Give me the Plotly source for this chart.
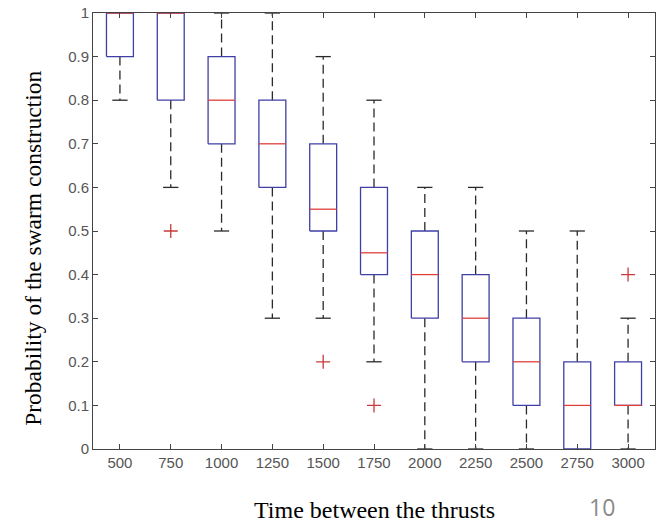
import plotly.graph_objects as go

categories = ["500", "750", "1000", "1250", "1500", "1750", "2000", "2250", "2500", "2750", "3000"]
lower_whisker = [0.8, 0.6, 0.5, 0.3, 0.3, 0.2, 0.0, 0.0, 0.0, 0.0, 0.0]
q1 = [0.9, 0.8, 0.7, 0.6, 0.5, 0.4, 0.3, 0.2, 0.1, 0.0, 0.1]
median = [1.0, 1.0, 0.8, 0.7, 0.55, 0.45, 0.4, 0.3, 0.2, 0.1, 0.1]
q3 = [1.0, 1.0, 0.9, 0.8, 0.7, 0.6, 0.5, 0.4, 0.3, 0.2, 0.2]
upper_whisker = [1.0, 1.0, 1.0, 1.0, 0.9, 0.8, 0.6, 0.6, 0.5, 0.5, 0.3]
outlier_cat = ["750", "1500", "1750", "3000"]
outlier_val = [0.5, 0.2, 0.1, 0.4]
y_ticks = [0, 0.1, 0.2, 0.3, 0.4, 0.5, 0.6, 0.7, 0.8, 0.9, 1]
y_ticktext = ["0", "0.1", "0.2", "0.3", "0.4", "0.5", "0.6", "0.7", "0.8", "0.9", "1"]

HW = 0.265   # box half width (category units)
CW = 0.15    # cap half width

idx = list(range(len(categories)))

box_x, box_y = [], []
med_x, med_y = [], []
wh_x, wh_y = [], []
cap_x, cap_y = [], []
for i in idx:
    box_x += [i - HW, i + HW, i + HW, i - HW, i - HW, None]
    box_y += [q1[i], q1[i], q3[i], q3[i], q1[i], None]
    med_x += [i - HW, i + HW, None]
    med_y += [median[i], median[i], None]
    if upper_whisker[i] > q3[i]:
        wh_x += [i, i, None]
        wh_y += [q3[i], upper_whisker[i], None]
        cap_x += [i - CW, i + CW, None]
        cap_y += [upper_whisker[i], upper_whisker[i], None]
    if lower_whisker[i] < q1[i]:
        wh_x += [i, i, None]
        wh_y += [q1[i], lower_whisker[i], None]
        cap_x += [i - CW, i + CW, None]
        cap_y += [lower_whisker[i], lower_whisker[i], None]

fig = go.Figure()
fig.add_trace(go.Scatter(x=wh_x, y=wh_y, mode="lines",
                         line=dict(color="#2a2a2a", width=1.3, dash="9px,5px"),
                         hoverinfo="skip", showlegend=False, cliponaxis=False))
fig.add_trace(go.Scatter(x=cap_x, y=cap_y, mode="lines",
                         line=dict(color="#2a2a2a", width=1.3),
                         hoverinfo="skip", showlegend=False, cliponaxis=False))
fig.add_trace(go.Scatter(x=box_x, y=box_y, mode="lines",
                         line=dict(color="#3f3fa6", width=1.3),
                         hoverinfo="skip", showlegend=False, cliponaxis=False))
fig.add_trace(go.Scatter(x=med_x, y=med_y, mode="lines",
                         line=dict(color="#e0403a", width=1.3),
                         hoverinfo="skip", showlegend=False, cliponaxis=False))
fig.add_trace(go.Scatter(x=[categories.index(c) for c in outlier_cat], y=outlier_val,
                         mode="markers",
                         marker=dict(symbol="cross-thin-open", size=10, color="#c8383a",
                                     line=dict(color="#c8383a", width=1.3)),
                         hoverinfo="skip", showlegend=False, cliponaxis=False))

axis_common = dict(showline=True, linecolor="#444444", linewidth=1, mirror="ticks",
                   ticks="inside", ticklen=5, tickcolor="#444444", showgrid=False,
                   zeroline=False,
                   tickfont=dict(family="Liberation Sans, Arial, sans-serif", size=15,
                                 color="#555555"))

fig.update_layout(
    width=657, height=524,
    margin=dict(l=93, r=2, t=13, b=75),
    paper_bgcolor="white", plot_bgcolor="white",
    xaxis=dict(range=[-0.53, 10.53], tickvals=idx, ticktext=categories, **axis_common),
    yaxis=dict(range=[0, 1], tickvals=y_ticks, ticktext=y_ticktext, **axis_common),
    annotations=[
        dict(text="Probability of the swarm construction", xref="paper", yref="paper",
             x=-0.107, y=0.461, xanchor="center", yanchor="middle", textangle=-90,
             showarrow=False,
             font=dict(family="Liberation Serif, Times New Roman, serif", size=23.5, color="black")),
        dict(text="Time between the thrusts", xref="paper", yref="paper",
             x=0.5, y=-0.139, xanchor="center", yanchor="middle", showarrow=False,
             font=dict(family="Liberation Serif, Times New Roman, serif", size=24, color="black")),
        dict(text="10", xref="paper", yref="paper",
             x=0.906, y=-0.134, xanchor="center", yanchor="middle", showarrow=False,
             font=dict(family="Open Sans, Liberation Sans, sans-serif", size=23, color="#8a8a8a")),
    ],
)

fig.write_html("out.html", config={"displayModeBar": False},
               post_script="document.body.style.margin='0';")
